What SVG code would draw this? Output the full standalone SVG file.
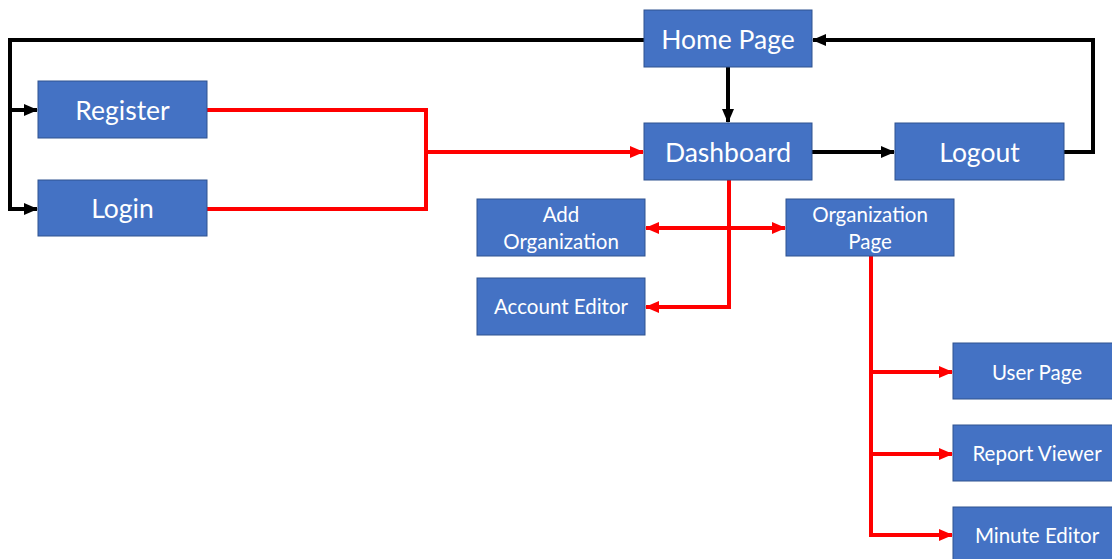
<svg xmlns="http://www.w3.org/2000/svg" width="1112" height="559" viewBox="0 0 1112 559">
  <style>
    .box { fill: #4472C4; stroke: #2F528F; stroke-width: 1; }
    .lbl { fill: #FFFFFF; font-family: Lato, "Open Sans", "Liberation Sans", sans-serif; text-anchor: middle; dominant-baseline: central; }
    .big { font-size: 26.5px; }
    .small { font-size: 20.5px; }
    .blk { fill: none; stroke: #000000; stroke-width: 4; }
    .red { fill: none; stroke: #FF0000; stroke-width: 4; }
  </style>
  <defs>
    <marker id="arrBlack" markerUnits="userSpaceOnUse" markerWidth="14" markerHeight="14" viewBox="0 0 14 14" refX="13" refY="7" orient="auto-start-reverse">
      <path d="M0,1 L14,7 L0,13 Z" fill="#000000"/>
    </marker>
    <marker id="arrRed" markerUnits="userSpaceOnUse" markerWidth="14" markerHeight="14" viewBox="0 0 14 14" refX="13" refY="7" orient="auto-start-reverse">
      <path d="M0,1 L14,7 L0,13 Z" fill="#FF0000"/>
    </marker>
  </defs>

  <rect width="1112" height="559" fill="#FFFFFF"/>

  <g id="connectors">
    <!-- Home Page to Register / Login -->
    <path class="blk" d="M644,40 H10 V110 H37" marker-end="url(#arrBlack)"/>
    <path class="blk" d="M10,108 V209 H37" marker-end="url(#arrBlack)"/>
    <!-- Home Page to Dashboard -->
    <path class="blk" d="M728,67 V122" marker-end="url(#arrBlack)"/>
    <!-- Dashboard to Logout -->
    <path class="blk" d="M812,152 H894" marker-end="url(#arrBlack)"/>
    <!-- Logout back to Home Page -->
    <path class="blk" d="M1064,152 H1093 V40 H813" marker-end="url(#arrBlack)"/>

    <!-- Register / Login to Dashboard -->
    <path class="red" d="M207,110 H426 V209 H207"/>
    <path class="red" d="M426,152 H643" marker-end="url(#arrRed)"/>
    <!-- Dashboard to Account Editor -->
    <path class="red" d="M729,180 V307 H646" marker-end="url(#arrRed)"/>
    <!-- Add Organization / Organization Page -->
    <path class="red" d="M646,228 H785" marker-start="url(#arrRed)" marker-end="url(#arrRed)"/>
    <!-- Organization Page to sub pages -->
    <path class="red" d="M871,256 V535 H952" marker-end="url(#arrRed)"/>
    <path class="red" d="M871,372 H952" marker-end="url(#arrRed)"/>
    <path class="red" d="M871,454 H952" marker-end="url(#arrRed)"/>
  </g>

  <g id="home-page">
    <rect class="box" x="644" y="10" width="168" height="57"/>
    <text class="lbl big" x="728" y="39">Home Page</text>
  </g>
  <g id="register">
    <rect class="box" x="38" y="81" width="169" height="57"/>
    <text class="lbl big" x="122.5" y="110">Register</text>
  </g>
  <g id="login">
    <rect class="box" x="38" y="180" width="169" height="56"/>
    <text class="lbl big" x="122.5" y="208">Login</text>
  </g>
  <g id="dashboard">
    <rect class="box" x="644" y="123" width="168" height="57"/>
    <text class="lbl big" x="728" y="152">Dashboard</text>
  </g>
  <g id="logout">
    <rect class="box" x="895" y="123" width="169" height="57"/>
    <text class="lbl big" x="979.5" y="152">Logout</text>
  </g>
  <g id="add-organization">
    <rect class="box" x="477" y="199" width="168" height="57"/>
    <text class="lbl small" x="561" y="214">Add</text>
    <text class="lbl small" x="561" y="241">Organization</text>
  </g>
  <g id="organization-page">
    <rect class="box" x="786" y="199" width="168" height="57"/>
    <text class="lbl small" x="870" y="214">Organization</text>
    <text class="lbl small" x="870" y="241">Page</text>
  </g>
  <g id="account-editor">
    <rect class="box" x="477" y="278" width="168" height="57"/>
    <text class="lbl small" x="561" y="306">Account Editor</text>
  </g>
  <g id="user-page">
    <rect class="box" x="953" y="343" width="168" height="56"/>
    <text class="lbl small" x="1037" y="372">User Page</text>
  </g>
  <g id="report-viewer">
    <rect class="box" x="953" y="425" width="168" height="56"/>
    <text class="lbl small" x="1037" y="453">Report Viewer</text>
  </g>
  <g id="minute-editor">
    <rect class="box" x="953" y="507" width="168" height="56"/>
    <text class="lbl small" x="1037" y="535">Minute Editor</text>
  </g>
</svg>
